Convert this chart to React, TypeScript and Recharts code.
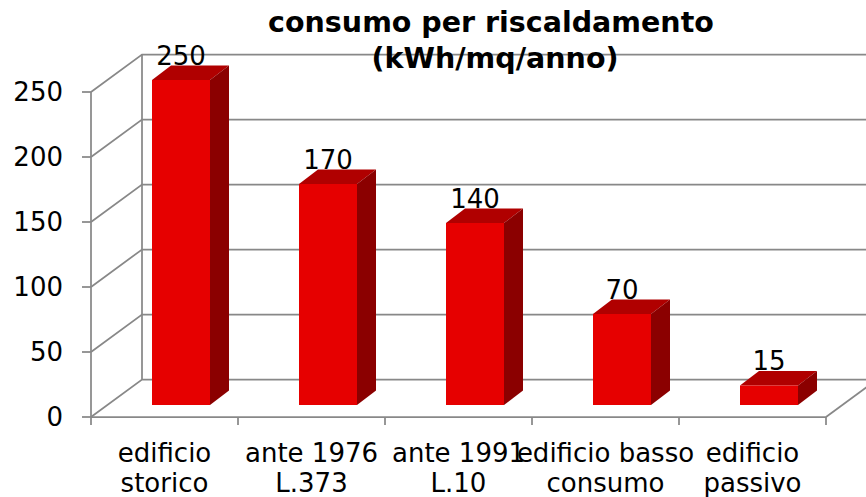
import React from 'react'
import { BarChart, Bar, XAxis, YAxis, CartesianGrid, LabelList } from 'recharts'

// chart values
const categories = [
  ['edificio', 'storico'],
  ['ante 1976', 'L.373'],
  ['ante 1991', 'L.10'],
  ['edificio basso', 'consumo'],
  ['edificio', 'passivo'],
]
const consumo = [250, 170, 140, 70, 15]
const yTicks = [0, 50, 100, 150, 200, 250]
const titleLines = ['consumo per riscaldamento', '(kWh/mq/anno)']

const data = categories.map((c, i) => ({ name: c.join('\n'), value: consumo[i] }))

// layout
const W = 866
const H = 497
const PLOT_LEFT = 91
const PLOT_RIGHT = 826
const PLOT_TOP = 92
const PLOT_BOTTOM = 417
const Y_AXIS_W = 60
const X_AXIS_H = 60
const PLOT_W = PLOT_RIGHT - PLOT_LEFT

// 3d offsets: back wall, bar face plane, bar depth
const WALL_DX = 51
const WALL_DY = 37.5
const FACE_DX = 16
const FACE_DY = 12
const BAR_DX = 19
const BAR_DY = 14.5

const FONT = '"DejaVu Sans", Verdana, sans-serif'
const FS = 26
const GRID = '#888888'
const FRONT = '#e60000'
const TOP = '#b00000'
const SIDE = '#8b0000'

const gridLine = (props: any) => {
  const { x1, x2, y1, y, height, index } = props
  const isFloor = Math.abs(y1 - (y + height)) < 1
  return (
    <g key={`grid-${index}`}>
      <polyline
        points={`${x1},${y1} ${x1 + WALL_DX},${y1 - WALL_DY} ${x2 + WALL_DX},${y1 - WALL_DY}`}
        fill="none" stroke={GRID} strokeWidth={1.75}
      />
      {isFloor && (
        <>
          <line x1={x2} y1={y1} x2={x2 + WALL_DX} y2={y1 - WALL_DY} stroke={GRID} strokeWidth={1.75} />
          <line x1={x1 + WALL_DX} y1={y1 - WALL_DY} x2={x1 + WALL_DX} y2={y - WALL_DY} stroke={GRID} strokeWidth={1.75} />
        </>
      )}
    </g>
  )
}

const Bar3D = (props: any) => {
  const { x, y, width, height } = props
  const fx = x + FACE_DX
  const fy = y - FACE_DY
  const w = width
  const h = height
  return (
    <g>
      <polygon
        points={`${fx},${fy} ${fx + BAR_DX},${fy - BAR_DY} ${fx + w + BAR_DX},${fy - BAR_DY} ${fx + w},${fy}`}
        fill={TOP}
      />
      <polygon
        points={`${fx + w},${fy} ${fx + w + BAR_DX},${fy - BAR_DY} ${fx + w + BAR_DX},${fy + h - BAR_DY} ${fx + w},${fy + h}`}
        fill={SIDE}
      />
      <rect x={fx} y={fy} width={w} height={h} fill={FRONT} />
    </g>
  )
}

const ValueLabel = (props: any) => {
  const { x, y, width, value } = props
  return (
    <text
      x={x + FACE_DX + width / 2}
      y={y - FACE_DY - BAR_DY - 1}
      textAnchor="middle" fontSize={FS} fontFamily={FONT} fill="#000"
    >
      {value}
    </text>
  )
}

const XTick = (props: any) => {
  const { x, y, payload, index } = props
  const half = PLOT_W / categories.length / 2
  const lines = String(payload.value).split('\n')
  return (
    <g>
      <line x1={x - half} y1={y} x2={x - half} y2={y + 8} stroke={GRID} strokeWidth={1.75} />
      {index === categories.length - 1 && (
        <line x1={x + half} y1={y} x2={x + half} y2={y + 8} stroke={GRID} strokeWidth={1.75} />
      )}
      {lines.map((l, i) => (
        <text key={i} x={x} y={y + 45 + i * 30} textAnchor="middle" fontSize={FS} fontFamily={FONT} fill="#000">
          {l}
        </text>
      ))}
    </g>
  )
}

export default function App() {
  return (
    <div style={{ position: 'fixed', left: 0, top: 0, width: W, height: H, background: '#fff' }}>
      <BarChart
        width={W}
        height={H}
        data={data}
        margin={{
          top: PLOT_TOP,
          right: W - PLOT_RIGHT,
          left: PLOT_LEFT - Y_AXIS_W,
          bottom: H - PLOT_BOTTOM - X_AXIS_H,
        }}
      >
        <CartesianGrid vertical={false} horizontal={gridLine} />
        <XAxis
          dataKey="name"
          height={X_AXIS_H}
          interval={0}
          tickLine={false}
          tickSize={0}
          tickMargin={0}
          axisLine={{ stroke: GRID, strokeWidth: 1.75 }}
          tick={<XTick />}
        />
        <YAxis
          width={Y_AXIS_W}
          domain={[0, 250]}
          ticks={yTicks}
          interval={0}
          tickSize={9}
          tickMargin={19}
          axisLine={{ stroke: GRID, strokeWidth: 1.75 }}
          tickLine={{ stroke: GRID, strokeWidth: 1.75 }}
          tick={{ fontSize: FS, fontFamily: FONT, fill: '#000' }}
        />
        <Bar dataKey="value" barSize={58} shape={<Bar3D />} isAnimationActive={false}>
          <LabelList dataKey="value" content={<ValueLabel />} />
        </Bar>
      </BarChart>
      <svg width={W} height={H} style={{ position: 'absolute', left: 0, top: 0, pointerEvents: 'none' }}>
        <text x={491} y={32} textAnchor="middle" fontSize={28.5} fontWeight="bold" fontFamily={FONT} fill="#000">
          {titleLines[0]}
        </text>
        <text x={495} y={68} textAnchor="middle" fontSize={28.5} fontWeight="bold" fontFamily={FONT} fill="#000">
          {titleLines[1]}
        </text>
      </svg>
    </div>
  )
}
